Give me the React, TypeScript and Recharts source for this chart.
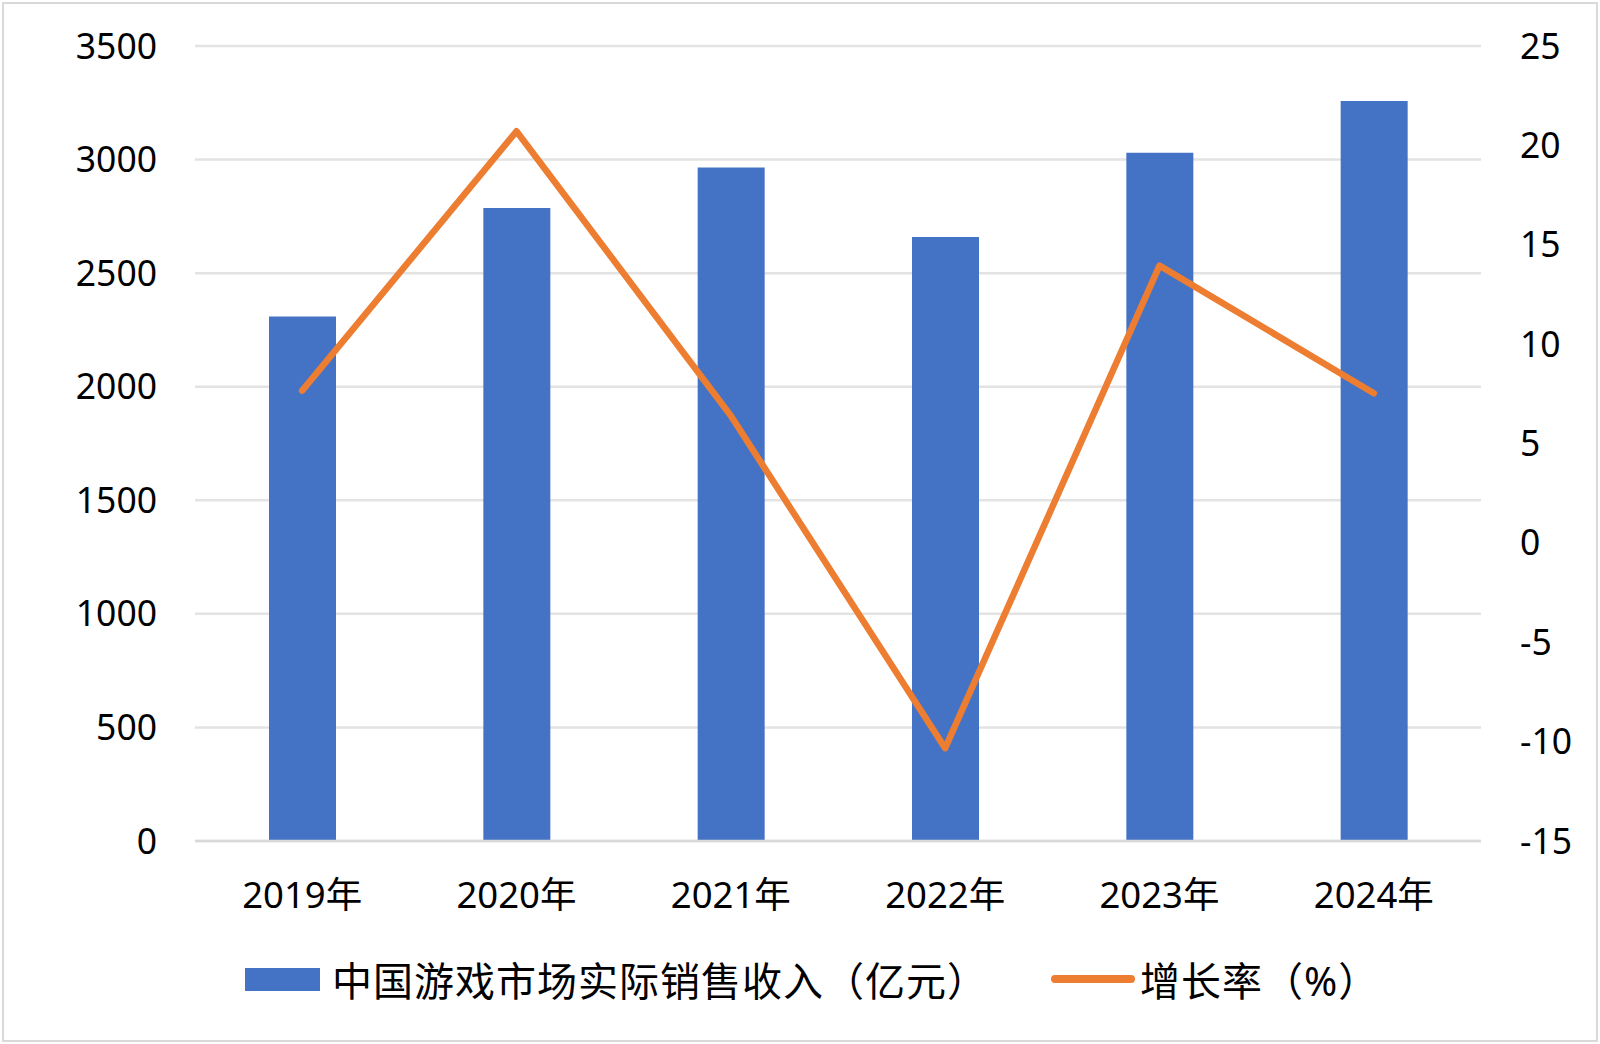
import { ComposedChart, Bar, Line, XAxis, YAxis, CartesianGrid, Legend } from "recharts"

const YEARS = ["2019年", "2020年", "2021年", "2022年", "2023年", "2024年"]
const REVENUE = [2308.8, 2786.87, 2965.13, 2658.84, 3029.64, 3257.83]
const GROWTH = [7.66, 20.71, 6.4, -10.33, 13.95, 7.53]
const LEFT_TICKS = [0, 500, 1000, 1500, 2000, 2500, 3000, 3500]
const RIGHT_TICKS = [-15, -10, -5, 0, 5, 10, 15, 20, 25]

const REVENUE_NAME = "中国游戏市场实际销售收入（亿元）"
const GROWTH_NAME = "增长率（%）"

const BLUE = "#4472C4"
const ORANGE = "#ED7D31"
const GRID = "#e3e3e3"
const FONT = "'Noto Sans', 'Noto Sans CJK SC', sans-serif"

const chartData = YEARS.map((year, i) => ({
    year,
    revenue: REVENUE[i],
    growth: GROWTH[i],
}))

function ChartLegend() {
    return (
        <div style={{ position: "relative", width: 1600, height: 83, fontFamily: FONT, fontSize: 40, letterSpacing: 1, color: "#000" }}>
            <div style={{ position: "absolute", left: 245, top: 35, height: 46, display: "flex", alignItems: "center" }}>
                <div style={{ width: 75, height: 23, background: BLUE, marginRight: 12 }} />
                <span>{REVENUE_NAME}</span>
            </div>
            <div style={{ position: "absolute", left: 1051, top: 35, height: 46, display: "flex", alignItems: "center" }}>
                <div style={{ width: 84, height: 8, borderRadius: 4, background: ORANGE, marginRight: 5 }} />
                <span>{GROWTH_NAME}</span>
            </div>
        </div>
    )
}

function XTick({ x, y, payload }: any) {
    return (
        <text x={x} y={y + 45} textAnchor="middle" dominantBaseline="central" fontSize={36.5} fontFamily={FONT} fill="#000">
            {payload.value}
        </text>
    )
}

export default function App() {
    return (
        <div style={{ position: "absolute", top: 0, left: 0, width: 1600, height: 1044, background: "#fff" }}>
            <div
                style={{
                    position: "absolute",
                    left: 2,
                    top: 2,
                    width: 1596,
                    height: 1040,
                    border: "2px solid #d9d9d9",
                    boxSizing: "border-box",
                }}
            />
            <ComposedChart
                width={1600}
                height={1044}
                data={chartData}
                margin={{ top: 46, right: 0, left: 0, bottom: 40 }}
                style={{ position: "absolute", top: 0, left: 0 }}
            >
                <CartesianGrid yAxisId="left" vertical={false} stroke={GRID} strokeWidth={2.5} />
                <XAxis
                    dataKey="year"
                    height={80}
                    tickLine={false}
                    axisLine={{ stroke: "#d9d9d9", strokeWidth: 2.5 }}
                    tick={<XTick />}
                    interval={0}
                />
                <YAxis
                    yAxisId="left"
                    width={195}
                    domain={[0, 3500]}
                    ticks={LEFT_TICKS}
                    axisLine={false}
                    tickLine={false}
                    tickSize={0}
                    tickMargin={38}
                    tick={{ fontSize: 35.5, fontFamily: FONT, fill: "#000" }}
                />
                <YAxis
                    yAxisId="right"
                    orientation="right"
                    width={119}
                    domain={[-15, 25]}
                    ticks={RIGHT_TICKS}
                    axisLine={false}
                    tickLine={false}
                    tickSize={0}
                    tickMargin={39}
                    tick={{ fontSize: 35.5, fontFamily: FONT, fill: "#000" }}
                />
                <Bar yAxisId="left" dataKey="revenue" name={REVENUE_NAME} fill={BLUE} barSize={67} isAnimationActive={false} />
                <Line
                    yAxisId="right"
                    dataKey="growth"
                    name={GROWTH_NAME}
                    stroke={ORANGE}
                    strokeWidth={6.5}
                    strokeLinecap="round"
                    strokeLinejoin="round"
                    dot={false}
                    activeDot={false}
                    type="linear"
                    isAnimationActive={false}
                />
                <Legend verticalAlign="bottom" content={<ChartLegend />} />
            </ComposedChart>
        </div>
    )
}
